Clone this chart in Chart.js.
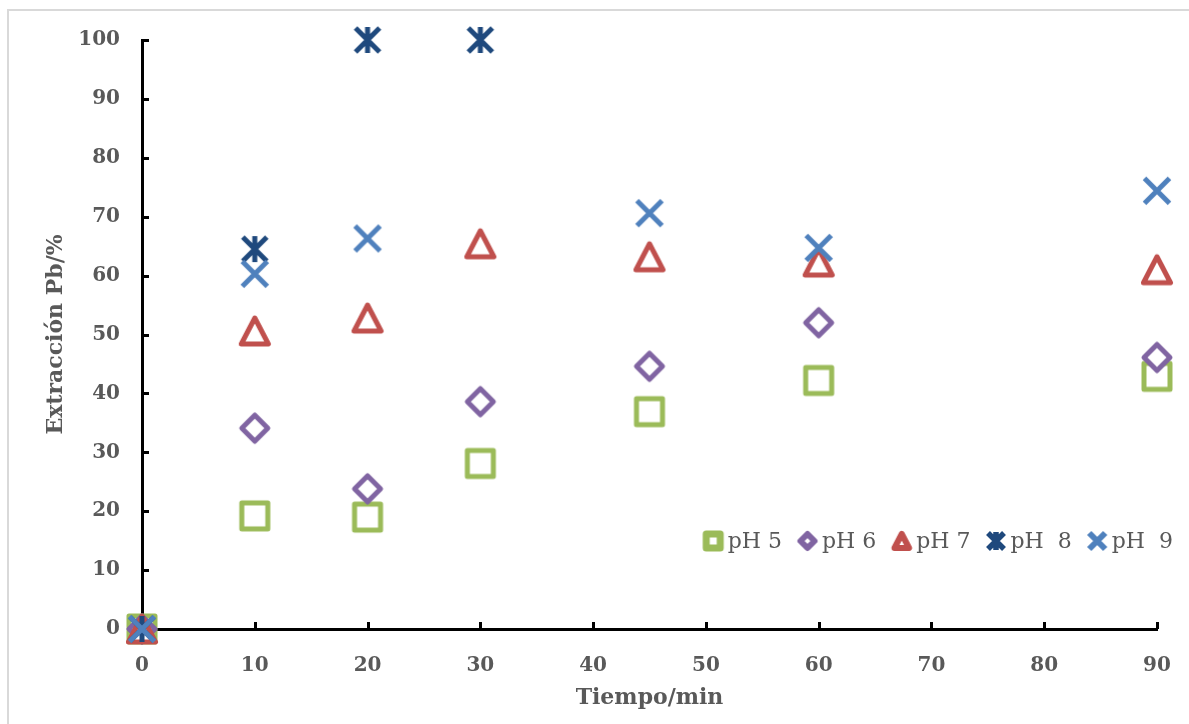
<!DOCTYPE html>
<html lang="es">
<head>
<meta charset="utf-8">
<title>Extracción Pb</title>
<script src="https://cdn.jsdelivr.net/npm/chart.js@4.4.1/dist/chart.umd.min.js"></script>
<style>
  html, body { margin: 0; background: #fff; }
  #marco { position: absolute; left: 7px; top: 9px; width: 1300px; height: 800px; border: 2px solid #d9d9d9; }
  #caja { position: absolute; left: 0; top: 0; width: 1189px; height: 724px; }
</style>
</head>
<body>
<div id="marco"></div>
<div id="caja"><canvas id="grafico"></canvas></div>
<script>
// Tiempo de contacto (min) y % de extracción de Pb para cada pH
const tiempos = [0, 10, 20, 30, 45, 60, 90];
const ph5 = [0, 19.2, 19.0, 28.1, 36.9, 42.2, 42.9];
const ph6 = [0, 34.1, 23.8, 38.6, 44.6, 52.0, 46.1];
const ph7 = [0, 50.6, 52.8, 65.4, 63.2, 62.3, 61.0];
const ph8 = [0, 64.5, 100, 100, null, null, null];
const ph9 = [0, 60.3, 66.3, null, 70.6, 64.7, 74.4];
const etiquetas = ['pH 5', 'pH 6', 'pH 7', 'pH  8', 'pH  9'];
const ticksX = [0, 10, 20, 30, 40, 50, 60, 70, 80, 90];
const ticksY = [0, 10, 20, 30, 40, 50, 60, 70, 80, 90, 100];

const GRIS = '#595959';

// Marcadores tipo Excel dibujados en un canvas aparte
function crearMarcador(forma, color, lado, grosor, r) {
    const c = document.createElement('canvas');
    c.width = c.height = lado;
    const g = c.getContext('2d');
    const m = lado / 2;
    g.strokeStyle = color;
    g.fillStyle = '#fff';
    g.lineWidth = grosor;
    g.lineJoin = 'round';
    g.beginPath();
    if (forma === 'cuadrado') {
        g.rect(m - r, m - r, 2 * r, 2 * r);
    } else if (forma === 'rombo') {
        g.moveTo(m, m - r); g.lineTo(m + r, m); g.lineTo(m, m + r); g.lineTo(m - r, m);
        g.closePath();
    } else if (forma === 'triangulo') {
        g.moveTo(m, m - r); g.lineTo(m + r * 1.04, m + r); g.lineTo(m - r * 1.04, m + r);
        g.closePath();
    }
    if (forma === 'equis' || forma === 'estrella') {
        g.lineCap = 'butt';
        g.moveTo(m - r, m - r); g.lineTo(m + r, m + r);
        g.moveTo(m + r, m - r); g.lineTo(m - r, m + r);
        if (forma === 'estrella') {
            g.moveTo(m, m - r - 1); g.lineTo(m, m + r + 1);
        }
        g.stroke();
    } else {
        g.fill();
        g.stroke();
    }
    return c;
}

const series = [
    { datos: ph5, color: '#9bbb59', forma: 'cuadrado', r: 13, rl: 7, gl: 7 },
    { datos: ph6, color: '#8064a2', forma: 'rombo', r: 13, rl: 7, gl: 6 },
    { datos: ph7, color: '#c0504d', forma: 'triangulo', r: 13, rl: 7, gl: 6 },
    { datos: ph8, color: '#1f497d', forma: 'estrella', r: 12, rl: 8, gl: 5.5 },
    { datos: ph9, color: '#4f81bd', forma: 'equis', r: 12.5, rl: 8, gl: 6 }
];

series.forEach(s => {
    s.marca = crearMarcador(s.forma, s.color, 36, 5, s.r);
    s.marcaLeyenda = crearMarcador(s.forma, s.color, 28, s.gl, s.rl);
});

const datasets = series.map((s, i) => ({
    label: etiquetas[i],
    data: tiempos.map((t, j) => ({ x: t, y: s.datos[j] })),
    pointStyle: s.marca,
    borderColor: s.color,
    backgroundColor: s.color,
    showLine: false,
    clip: false,
    order: series.length - i
}));

// Marcas de graduación hacia dentro del área del gráfico
const marcasInternas = {
    id: 'marcasInternas',
    beforeDatasetsDraw(chart) {
        const { ctx, chartArea, scales } = chart;
        ctx.save();
        ctx.strokeStyle = '#000';
        ctx.lineWidth = 3;
        ctx.beginPath();
        scales.y.ticks.forEach(t => {
            const py = Math.round(scales.y.getPixelForValue(t.value)) + 0.5;
            ctx.moveTo(chartArea.left, py);
            ctx.lineTo(chartArea.left + 7, py);
        });
        scales.x.ticks.forEach(t => {
            const px = Math.round(scales.x.getPixelForValue(t.value)) + 0.5;
            ctx.moveTo(px, chartArea.bottom);
            ctx.lineTo(px, chartArea.bottom - 7);
        });
        ctx.stroke();
        ctx.restore();
    }
};

// Leyenda horizontal dentro del área, abajo a la derecha
const leyenda = {
    id: 'leyendaInterna',
    afterDatasetsDraw(chart) {
        const { ctx, chartArea } = chart;
        ctx.save();
        ctx.font = '22px "DejaVu Serif"';
        ctx.fillStyle = GRIS;
        ctx.textBaseline = 'middle';
        const anchos = etiquetas.map(t => ctx.measureText(t).width);
        const total = anchos.reduce((a, w) => a + 25 + w, 0) + 15 * (etiquetas.length - 1);
        let x = chart.width - 16 - total;
        const y = chartArea.bottom - 88;
        series.forEach((s, i) => {
            const img = s.marcaLeyenda;
            ctx.drawImage(img, x + 10.5 - img.width / 2, y - img.height / 2);
            ctx.fillText(etiquetas[i], x + 25, y + 1);
            x += 25 + anchos[i] + 15;
        });
        ctx.restore();
    }
};

const fuenteEjes = { family: '"DejaVu Serif"', size: 20, weight: 'bold' };
const fuenteTitulo = { family: '"DejaVu Serif"', size: 22, weight: 'bold' };

new Chart(document.getElementById('grafico'), {
    type: 'scatter',
    data: { datasets },
    options: {
        responsive: true,
        maintainAspectRatio: false,
        animation: false,
        events: [],
        layout: { padding: { left: 0, top: 40, right: 32, bottom: 0 } },
        plugins: {
            legend: { display: false },
            tooltip: { enabled: false }
        },
        scales: {
            x: {
                type: 'linear',
                min: 0,
                max: 90,
                afterBuildTicks: sc => { sc.ticks = ticksX.map(v => ({ value: v })); },
                afterFit: sc => { sc.height = 95; },
                grid: { display: false },
                border: { display: true, color: '#000', width: 3 },
                ticks: { color: GRIS, font: fuenteEjes, padding: 17, maxRotation: 0 },
                title: { display: true, text: 'Tiempo/min', color: GRIS, font: fuenteTitulo, padding: { top: 0, bottom: 13 } }
            },
            y: {
                type: 'linear',
                min: 0,
                max: 100,
                afterBuildTicks: sc => { sc.ticks = ticksY.map(v => ({ value: v })); },
                afterFit: sc => { sc.width = 142; },
                grid: { display: false },
                border: { display: true, color: '#000', width: 3 },
                ticks: { color: GRIS, font: fuenteEjes, padding: 14 },
                title: { display: true, text: 'Extracción Pb/%', color: GRIS, font: fuenteTitulo, padding: { top: 43, bottom: 0 } }
            }
        }
    },
    plugins: [marcasInternas, leyenda]
});
</script>
</body>
</html>
